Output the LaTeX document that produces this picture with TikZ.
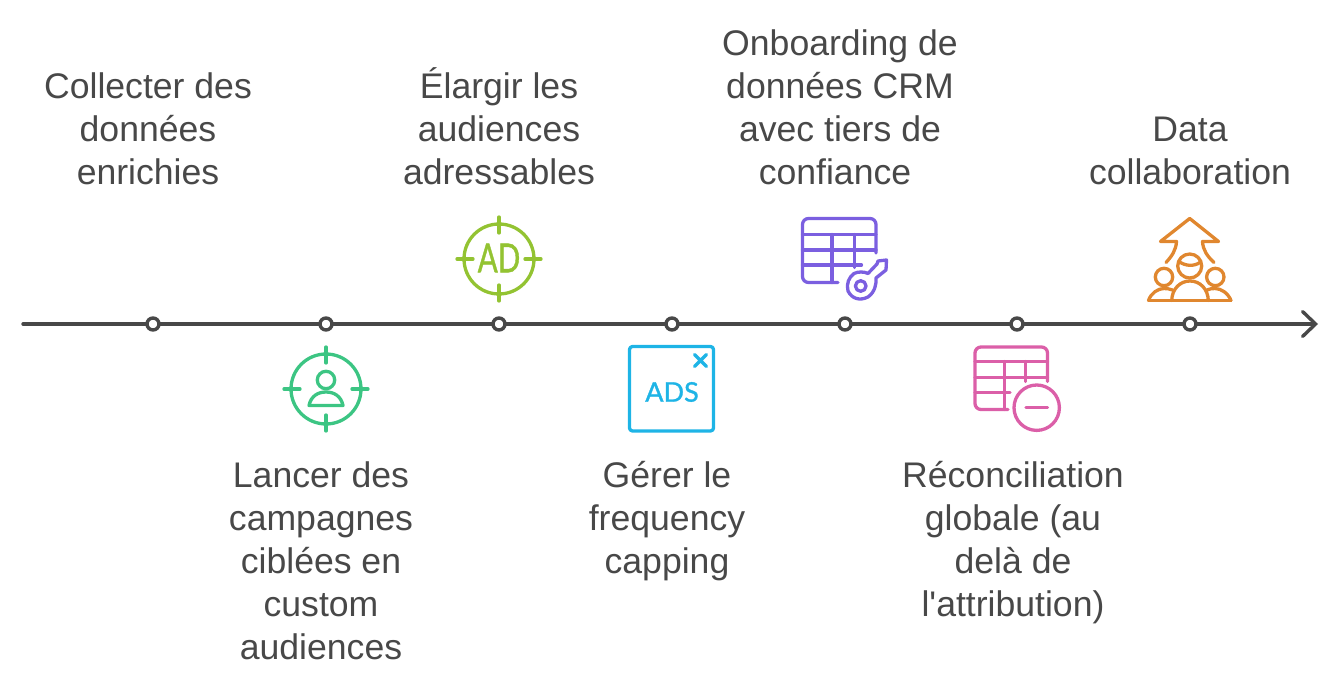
\documentclass[tikz,border=0pt]{standalone}
\usepackage{fontspec}
\newfontfamily\labelfont{Liberation Sans}
\newfontfamily\iconfont[FakeBold=1.2]{Lato}
\usetikzlibrary{arrows.meta}
\definecolor{axisgray}{HTML}{484848}
\definecolor{targetgreen}{HTML}{3CC583}
\definecolor{adlime}{HTML}{93C332}
\definecolor{adsblue}{HTML}{1EB4E6}
\definecolor{keypurple}{HTML}{7B5FE0}
\definecolor{tablepink}{HTML}{DB5FA8}
\definecolor{crowdorange}{HTML}{E0872F}
\tikzset{
  steplabel/.style={inner sep=0pt, align=center, text=axisgray, font=\labelfont\fontsize{35.6}{43}\selectfont},
  stepdot/.style={draw=axisgray, line width=3.4pt, fill=white, circle, inner sep=0pt, minimum size=12pt},
  iconline/.style={line width=3.3pt, line cap=round, line join=round}
}
\begin{document}
\begin{tikzpicture}[x=1pt, y=-1pt]
    \useasboundingbox (0,0) rectangle (1341,692);

    % Axis
    \coordinate (axisstart) at (23,324);
    \coordinate (axisend) at (1318,324);
    \draw[axisgray, line width=3.4pt, line cap=round, -{Straight Barb[length=13pt, width=25pt, line cap=round]}] (axisstart) -- (axisend);

    % Dots
    \node[stepdot] (dot1) at (153,324) {};
    \node[stepdot] (dot2) at (326,324) {};
    \node[stepdot] (dot3) at (499,324) {};
    \node[stepdot] (dot4) at (672,324) {};
    \node[stepdot] (dot5) at (845,324) {};
    \node[stepdot] (dot6) at (1017,324) {};
    \node[stepdot] (dot7) at (1190,324) {};

    % Labels
    \node[steplabel] (label1) at (148,129) {Collecter des\\données\\enrichies};
    \node[steplabel] (label2) at (321,561) {Lancer des\\campagnes\\ciblées en\\custom\\audiences};
    \node[steplabel] (label3) at (499,126) {Élargir les\\audiences\\adressables};
    \node[steplabel] (label4) at (667,521) {Gérer le\\frequency\\capping};
    \node[steplabel] (label5) at (840,107.5) {Onboarding de\\données CRM\\avec tiers de\\\mbox{confiance\kern10pt}};
    \node[steplabel] (label6) at (1013,542.5) {Réconciliation\\globale (au\\delà de\\l'attribution)};
    \node[steplabel] (label7) at (1190,150.5) {Data\\collaboration};

    % Target with person
    \draw[iconline, targetgreen] (326,389) circle[radius=35];
    \draw[iconline, targetgreen] (326,347) -- (326,363) (326,415) -- (326,431)
        (284,389) -- (300,389) (352,389) -- (368,389);
    \draw[iconline, targetgreen] (326,380) circle[radius=8.7];
    \draw[iconline, targetgreen] (309,405.5) .. controls (311,396) and (318,392) .. (326,392)
        .. controls (334,392) and (341,396) .. (343,405.5) -- cycle;

    % Target with AD
    \draw[iconline, adlime] (499,259) circle[radius=35];
    \draw[iconline, adlime] (499,217) -- (499,233) (499,285) -- (499,301)
        (457,259) -- (473,259) (525,259) -- (541,259);
    \node[adlime, inner sep=0pt, xscale=0.74, font=\iconfont\fontsize{40}{40}\selectfont] (adtext) at (499,258) {AD};

    % Ads window
    \draw[iconline, adsblue, rounded corners=3pt] (629.5,346.5) rectangle (713.5,431);
    \draw[iconline, adsblue] (694.5,354.5) -- (706.5,366.5) (706.5,354.5) -- (694.5,366.5);
    \node[adsblue, inner sep=0pt, font=\iconfont\fontsize{27}{27}\selectfont] (adstext) at (672,392) {ADS};

    % Table with key
    \draw[iconline, keypurple, rounded corners=6pt] (838,282.5) -- (802.5,282.5) -- (802.5,218.5) -- (876,218.5) -- (876,253);
    \draw[iconline, keypurple] (802.5,234.5) -- (876,234.5) (802.5,250) -- (876,250) (802.5,265) -- (861.5,265)
        (832,234.5) -- (832,282.5) (854.5,234.5) -- (854.5,267.5);
    \draw[iconline, keypurple] (860.7,286) circle[radius=5.3];
    \draw[iconline, keypurple] (854,273.5) .. controls (858,271.5) and (864,271.5) .. (868,273.5)
        -- (877,264) -- (878,261) -- (886.5,260) -- (886,270) -- (876,278)
        .. controls (876.5,284) and (875,292) .. (868,297)
        .. controls (860,301) and (852,299) .. (848,291)
        .. controls (846,284) and (849,277) .. (854,273.5) -- cycle;

    % Table with minus
    \draw[iconline, tablepink, rounded corners=6pt] (1008,409.5) -- (975,409.5) -- (975,347) -- (1047.5,347) -- (1047.5,381.5);
    \draw[iconline, tablepink] (975,361.5) -- (1047.5,361.5) (975,377.5) -- (1047.5,377.5) (975,392.5) -- (1010,392.5)
        (1004.5,361.5) -- (1004.5,409.5) (1025.5,361.5) -- (1025.5,381.5);
    \draw[iconline, tablepink] (1036.7,407.7) circle[radius=22.7];
    \draw[iconline, tablepink] (1026,407.7) -- (1047.5,407.7);

    % Group with arrow
    \draw[iconline, crowdorange] (1166,262.5) .. controls (1172,256) and (1176,250) .. (1176.5,241.5)
        -- (1160.5,241.5) -- (1189.7,218.5) -- (1218.5,241.5) -- (1202.5,241.5)
        .. controls (1203,250) and (1207,256) .. (1214,262.5);
    \draw[iconline, crowdorange] (1189.7,266) circle[radius=12];
    \draw[iconline, crowdorange] (1179,261.5) .. controls (1185,266) and (1194,267) .. (1200.5,262);
    \draw[iconline, crowdorange] (1164,277) circle[radius=8.7];
    \draw[iconline, crowdorange] (1215.3,277) circle[radius=8.7];
    \draw[iconline, crowdorange] (1148.5,300.5) -- (1231,300.5);
    \draw[iconline, crowdorange] (1171.7,300.5) .. controls (1172,289) and (1180,281) .. (1190,281)
        .. controls (1200,281) and (1208,289) .. (1208.3,300.5);
    \draw[iconline, crowdorange] (1148.5,300.5) .. controls (1151,293) and (1158,288.5) .. (1164,288.5)
        .. controls (1167,288.5) and (1170,289) .. (1172.5,290);
    \draw[iconline, crowdorange] (1231,300.5) .. controls (1228,293) and (1221,288.5) .. (1215,288.5)
        .. controls (1212,288.5) and (1209,289) .. (1207,290);
\end{tikzpicture}
\end{document}
